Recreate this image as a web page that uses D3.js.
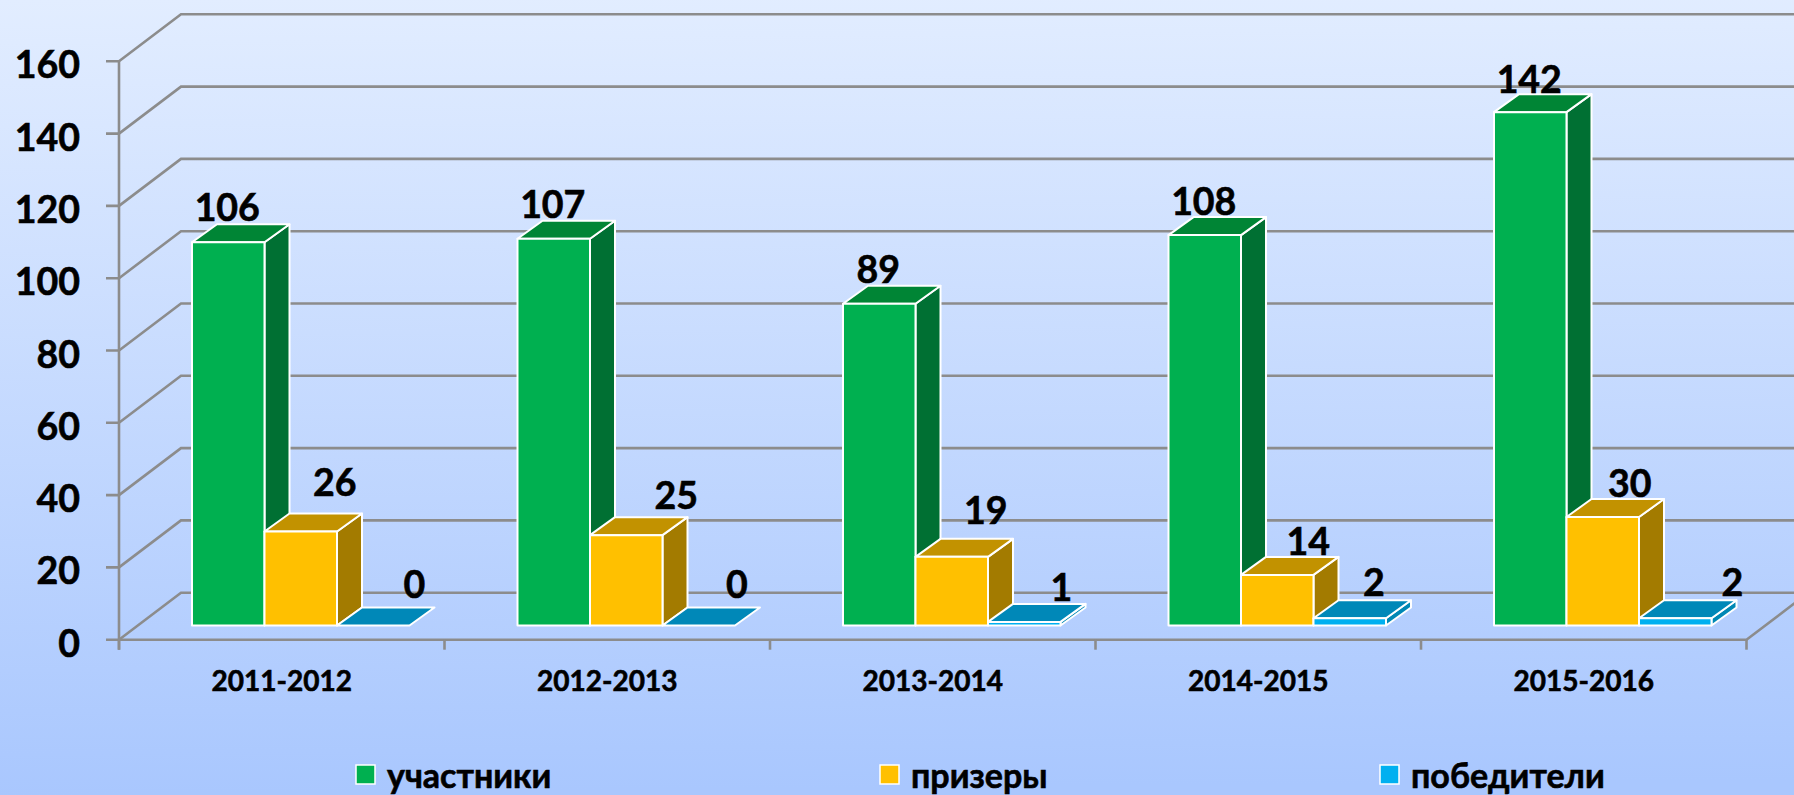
<!DOCTYPE html>
<html><head><meta charset="utf-8">
<script src="https://cdnjs.cloudflare.com/ajax/libs/d3/7.8.5/d3.min.js"></script>
<style>html,body{margin:0;padding:0;overflow:hidden;background:#b8d0ff}svg{display:block}
text{font-family:Lato,"Noto Sans",sans-serif;font-weight:700;fill:#000;stroke:#000;stroke-width:.6px}</style>
</head><body><svg id="c" width="1794" height="795"></svg>
<script>
const years = ["2011-2012","2012-2013","2013-2014","2014-2015","2015-2016"];
const seriesNames = ["участники","призеры","победители"];
const participants = [106,107,89,108,142];
const prizewinners = [26,25,19,14,30];
const winners = [0,0,1,2,2];
const yTicks = [0,20,40,60,80,100,120,140,160];

const W=1794,H=795;
const svg=d3.select("#c");
const defs=svg.append("defs");
const g=defs.append("linearGradient").attr("id","bg").attr("x1",0).attr("y1",0).attr("x2",0.02).attr("y2",1);
g.append("stop").attr("offset",0).attr("stop-color","#e2edff");
g.append("stop").attr("offset",1).attr("stop-color","#a9c7fe");
svg.append("rect").attr("width",W).attr("height",H).attr("fill","url(#bg)");

const y=d3.scaleLinear().domain([0,160]).range([639.7,61.3]);
const x=d3.scaleBand().domain(years).range([119,1746.5]);
const x1=d3.scaleBand().domain(seriesNames).range([73,290.5]);
const wallDx=62,wallDy=47,depthDx=25,depthDy=18,floorLift=y(0)-625.5;
const grid="#8c8c8c";
const series=[
 {name:seriesNames[0],values:participants,front:"#00b050",top:"#008535",side:"#007033"},
 {name:seriesNames[1],values:prizewinners,front:"#ffc000",top:"#c29200",side:"#a37b00"},
 {name:seriesNames[2],values:winners,front:"#00b0f0",top:"#0088b8",side:"#0088b4"}];

// walls and gridlines
const walls=svg.append("g").attr("fill","none").attr("stroke",grid).attr("stroke-width",2.6);
yTicks.forEach(t=>{
  const yy=y(t);
  walls.append("path").attr("d",d3.line()([[119-13,yy],[119,yy],[119+wallDx,yy-wallDy],[1746.5+wallDx,yy-wallDy]]));
});
walls.append("path").attr("d",d3.line()([[119,y(160)],[119,y(0)+10]]));
walls.append("path").attr("d",d3.line()([[119,y(0)],[1746.5,y(0)],[1746.5+wallDx,y(0)-wallDy]]));
d3.range(years.length+1).forEach(i=>{
  const xx=i<years.length?x(years[i]):x.range()[1];
  walls.append("path").attr("d",d3.line()([[xx,y(0)],[xx,y(0)+10]]));
});

// bars
const yBase=v=>y(v)-floorLift;
const w=x1.bandwidth();
const bars=svg.append("g").attr("stroke","#fff").attr("stroke-width",2).attr("stroke-linejoin","round");
years.forEach((yr,i)=>{
  series.forEach(s=>{
    const v=s.values[i], x0=x(yr)+x1(s.name), x2=x0+w, yt=yBase(v), yb=yBase(0);
    const poly=(pts,f)=>bars.append("polygon").attr("points",pts.map(p=>p.join(",")).join(" ")).attr("fill",f);
    if(v>0) poly([[x2,yt],[x2+depthDx,yt-depthDy],[x2+depthDx,yb-depthDy],[x2,yb]],s.side);
    poly([[x0,yt],[x0+depthDx,yt-depthDy],[x2+depthDx,yt-depthDy],[x2,yt]],s.top);
    if(v>0) poly([[x0,yt],[x2,yt],[x2,yb],[x0,yb]],s.front);
  });
});

// manual data-label placement as in the source (dx from bar centre, dy from bar top)
const labelNudge=[
 [[-1,-21],[34,-36],[41,-28]],
 [[-1,-21],[50,-26],[38,-28]],
 [[-1,-21],[34,-33],[37,-21]],
 [[-1,-20],[31,-20],[24,-22]],
 [[-1,-19],[27,-20],[57,-22]]];
years.forEach((yr,i)=>series.forEach((s,j)=>{
  svg.append("text").attr("x",x(yr)+x1(s.name)+w/2+labelNudge[i][j][0])
   .attr("y",yBase(s.values[i])+labelNudge[i][j][1])
   .attr("text-anchor","middle").attr("font-size",37.5).text(s.values[i]);
}));

// axis labels
yTicks.forEach(t=>svg.append("text").attr("x",80).attr("y",y(t)+17)
  .attr("text-anchor","end").attr("font-size",37.5).text(t));
years.forEach(yr=>svg.append("text").attr("x",x(yr)+x.bandwidth()/2).attr("y",691)
  .attr("text-anchor","middle").attr("font-size",28).text(yr));

// legend
const legendX=[356,880,1380];
series.forEach((s,i)=>{
  svg.append("rect").attr("x",legendX[i]).attr("y",765).attr("width",19).attr("height",19)
    .attr("fill",s.front).attr("stroke","#fff").attr("stroke-width",1.5);
  svg.append("text").attr("x",legendX[i]+31).attr("y",788).attr("font-size",34).text(s.name);
});
</script></body></html>
